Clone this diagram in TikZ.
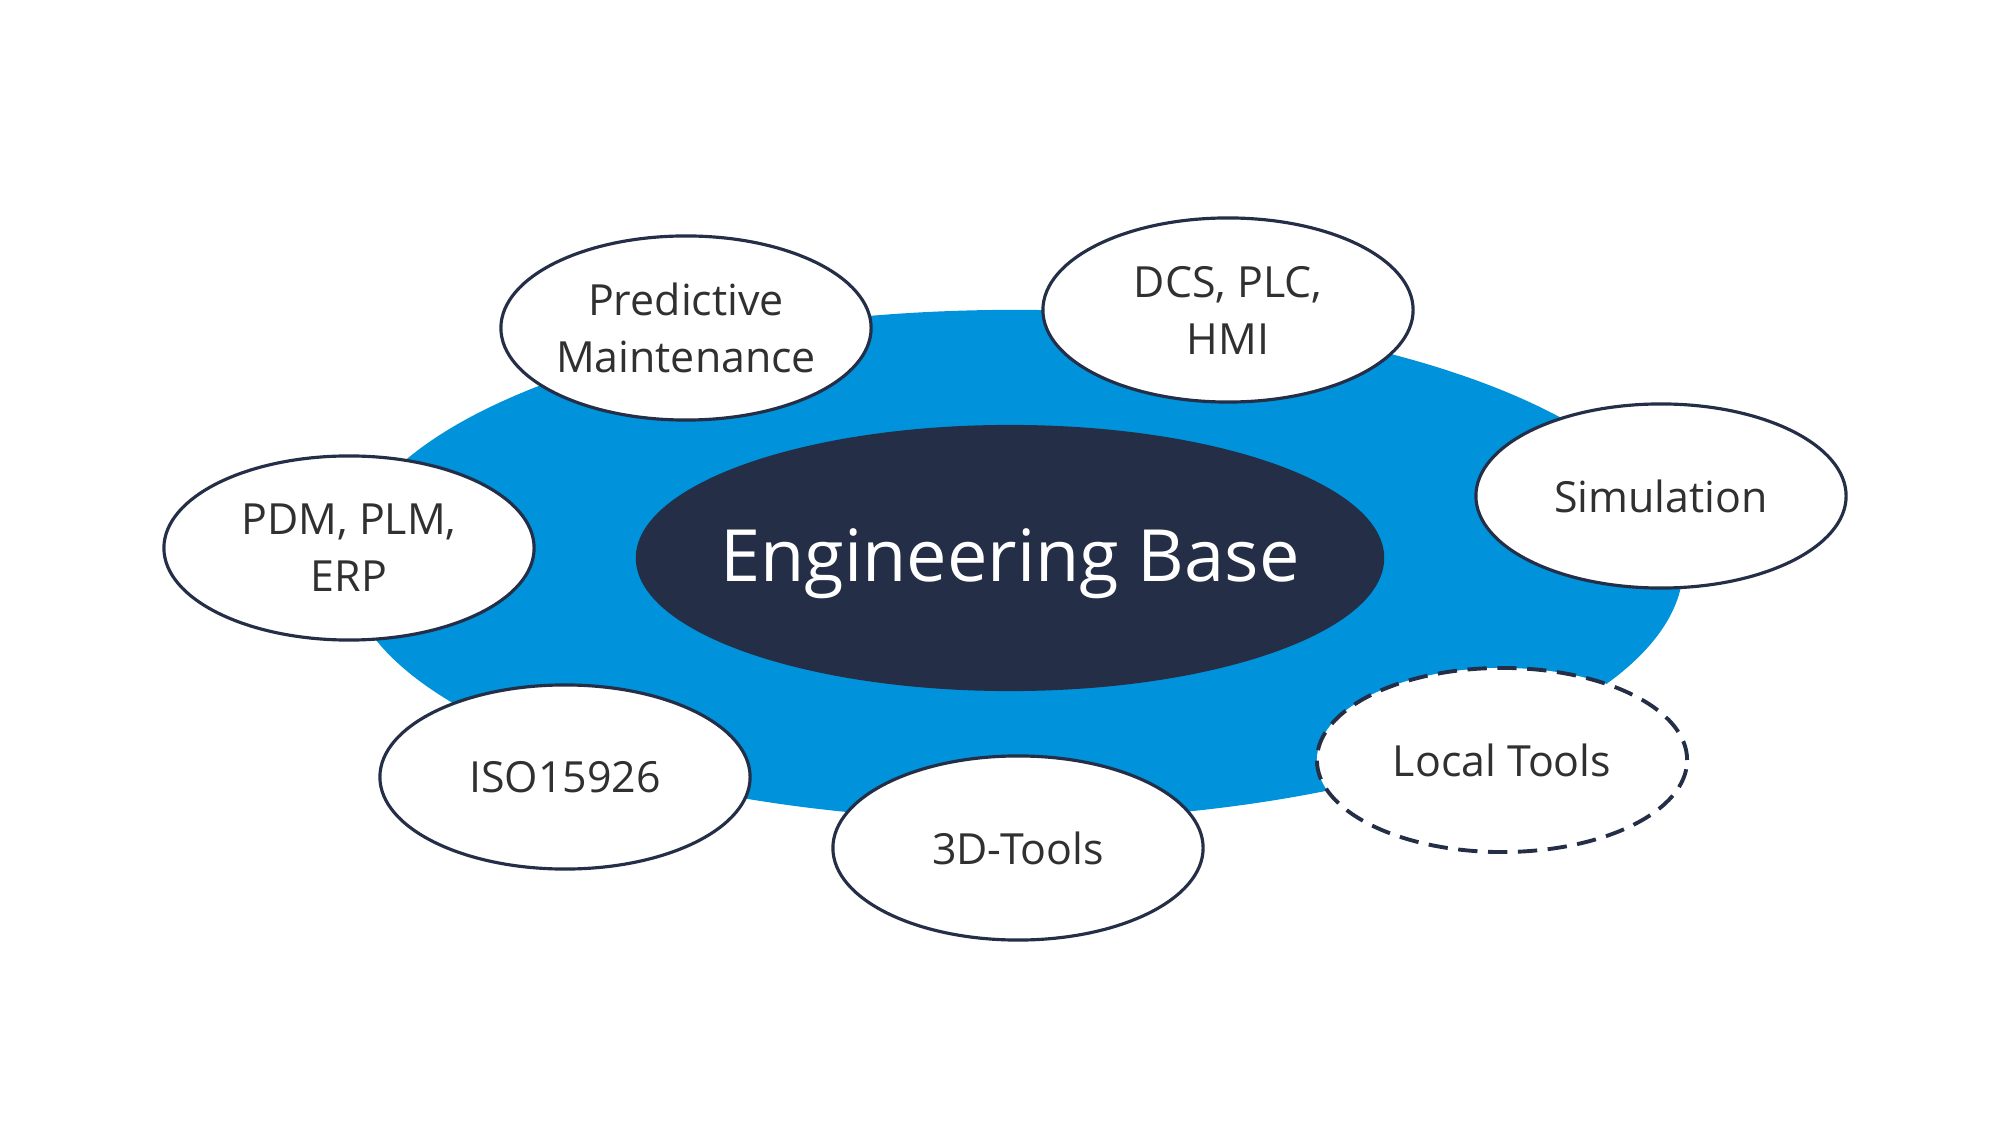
\documentclass[tikz,border=0pt]{standalone}
\usepackage{fontspec}
\setmainfont{Open Sans}
\usetikzlibrary{shapes.geometric}
\definecolor{eblue}{RGB}{0,146,218}
\definecolor{enavy}{RGB}{36,46,70}
\definecolor{etext}{RGB}{48,48,48}
\begin{document}
\begin{tikzpicture}[x=0.01cm,y=-0.01cm,
  satellite/.style={ellipse, inner sep=0pt, fill=white, draw=enavy, line width=0.9pt,
    minimum width=3.7cm, minimum height=1.84cm, align=center,
    font=\fontsize{12.2}{16.2}\selectfont, text=etext},
  dashedsat/.style={satellite, dash pattern=on 5.5pt off 3pt, line width=1.1pt},
  ringshape/.style={ellipse, inner sep=0pt, fill=eblue, minimum width=13.36cm, minimum height=5.1cm},
  coreshape/.style={ellipse, inner sep=0pt, fill=enavy, minimum width=7.48cm, minimum height=2.66cm},
  coretext/.style={text=white, font=\fontsize{20.5}{24}\selectfont, inner sep=0pt}]
\useasboundingbox (0,0) rectangle (2000,1125);
\node[ringshape] (ring) at (1015,565) {};
\node[coreshape, label={[coretext, yshift=-0.06cm]center:Engineering Base}] (core) at (1010,558) {};
\node[satellite] (pm) at (686,328) {Predictive\\Maintenance};
\node[satellite] (dcs) at (1228,310) {DCS, PLC,\\HMI};
\node[satellite] (sim) at (1661,496) {Simulation};
\node[satellite] (pdm) at (349,548) {PDM, PLM,\\ERP};
\node[satellite] (iso) at (565,777) {ISO15926};
\node[satellite] (threed) at (1018,848) {3D-Tools};
\node[dashedsat] (local) at (1502,760) {Local Tools};
\end{tikzpicture}
\end{document}
